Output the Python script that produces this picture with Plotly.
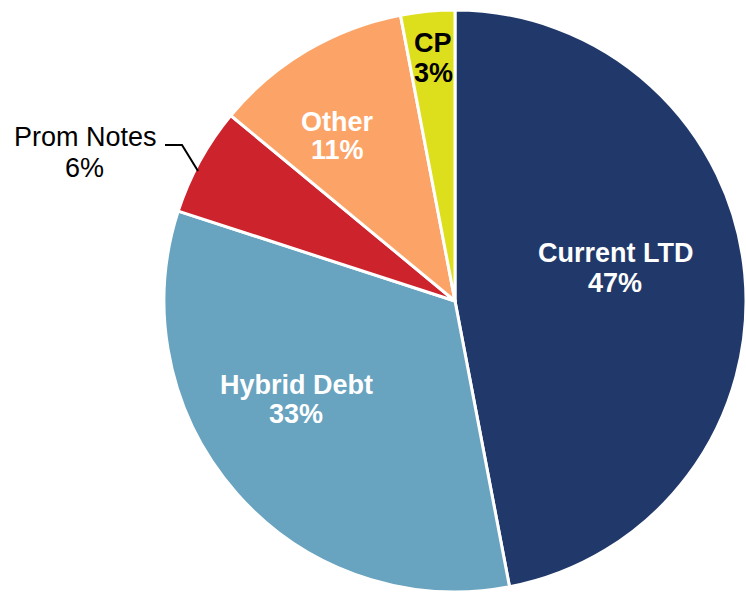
import plotly.graph_objects as go

W, H = 746, 594

# debt mix, clockwise from 12 o'clock
categories = ["Current LTD", "Hybrid Debt", "Prom Notes", "Other", "CP"]
shares = [47, 33, 6, 11, 3]
colors = ["#21396A", "#68A3BF", "#CD232C", "#FCA468", "#DEDF1C"]

# label placement (pixel centres of the two text lines) and text styling
label_pos = {
    "Current LTD": (616, 253, 615, 283),
    "Hybrid Debt": (296, 385, 296, 414),
    "Prom Notes": (85, 137, 84, 168),
    "Other": (337, 122, 337, 150),
    "CP": (433, 43, 433, 73),
}
label_color = {"Current LTD": "white", "Hybrid Debt": "white", "Prom Notes": "black",
               "Other": "white", "CP": "black"}
label_bold = {"Current LTD": True, "Hybrid Debt": True, "Prom Notes": False,
              "Other": True, "CP": True}


def px(x):
    return x / W


def py(y):
    return 1 - y / H


fig = go.Figure(go.Pie(
    labels=categories,
    values=shares,
    sort=False,
    direction="clockwise",
    rotation=0,
    marker=dict(colors=colors, line=dict(color="white", width=3)),
    textinfo="none",
    hoverinfo="label+percent",
    domain=dict(x=[px(164), 1], y=[py(593), py(9)]),
))

annotations = []
for cat, val in zip(categories, shares):
    x1, y1, x2, y2 = label_pos[cat]
    font = dict(family="Arial, Liberation Sans, sans-serif", size=27,
                color=label_color[cat], weight="bold" if label_bold[cat] else "normal")
    for text, x, y in [(cat, x1, y1), (f"{val}%", x2, y2)]:
        annotations.append(dict(
            text=text, x=px(x), y=py(y), xref="paper", yref="paper",
            xanchor="center", yanchor="middle", showarrow=False, font=font,
        ))

# leader line for the small Prom Notes slice
shapes = [dict(
    type="path", xref="paper", yref="paper",
    path=f"M {px(165)} {py(145)} L {px(182)} {py(145)} L {px(198)} {py(171)}",
    line=dict(color="black", width=2),
)]

fig.update_layout(
    width=W, height=H,
    margin=dict(l=0, r=0, t=0, b=0),
    showlegend=False,
    paper_bgcolor="white",
    annotations=annotations,
    shapes=shapes,
)

# drop the page's default body margin so the figure fills the window
fig.write_html(
    "out.html",
    config={"displayModeBar": False},
    post_script="document.body.style.margin='0';document.documentElement.style.overflow='hidden';",
)
